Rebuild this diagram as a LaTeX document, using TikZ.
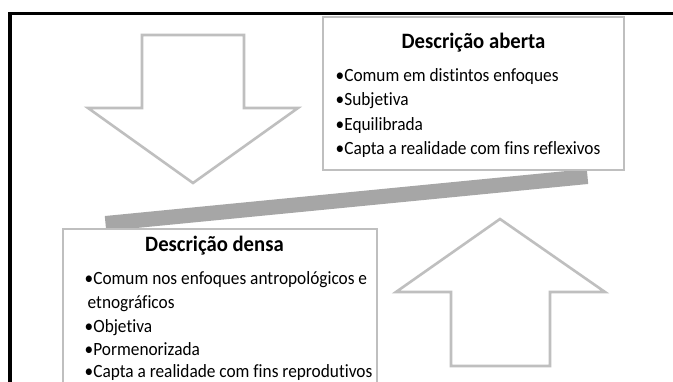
\documentclass[tikz,border=0pt]{standalone}
\usepackage{fontspec}
\setmainfont{Carlito}[Ligatures=NoCommon]
\definecolor{boxgray}{HTML}{BFBFBF}
\definecolor{bargray}{HTML}{A6A6A6}
\tikzset{
  textbox/.style={draw=boxgray, line width=2pt, fill=white, rectangle, inner sep=0pt},
  bigarrow/.style={draw=boxgray, line width=2.6pt, fill=white, line join=miter},
  barline/.style={draw=bargray, line width=15pt, line cap=butt},
  frameline/.style={draw=black, line width=3.6pt},
  title/.style={anchor=base, inner sep=0pt, yscale=1.06, font=\fontsize{20.7}{24}\selectfont\bfseries},
  item/.style={anchor=base west, inner sep=0pt, yscale=1.08, font=\fontsize{17.3}{21}\selectfont},
}
\begin{document}
\begin{tikzpicture}[x=1pt, y=-1pt]
\useasboundingbox (0,0) rectangle (673,382);
\fill[white] (0,0) rectangle (673,382);
% frame
\coordinate (fTR) at (673,13.4);
\coordinate (fTL) at (10.2,13.4);
\coordinate (fBL) at (10.2,382);
\draw[frameline] (fTR) -- (8.4,13.4);
\draw[frameline] (fTL) -- (fBL);
% down arrow
\draw[bigarrow] (142,35) -- (244,35) -- (244,108) -- (298,108) -- (193,183) -- (88,108) -- (142,108) -- cycle;
% up arrow
\draw[bigarrow] (451,366) -- (550,366) -- (550,292) -- (605,292) -- (500,219) -- (396,292) -- (451,292) -- cycle;
% balance bar
\coordinate (barL) at (105.5,223.5);
\coordinate (barR) at (587.5,176.5);
\draw[barline] (barL) -- (barR);
% boxes
\node[textbox, minimum width=301pt, minimum height=153pt] (aberta) at (473.5,93.5) {};
\node[textbox, minimum width=314pt, minimum height=170pt] (densa) at (220,314) {};
% texts of box aberta
\node[title] (tA) at (473.5,48.3) {Descrição aberta};
\node[item] (a1) at (335.5,81.7) {•Comum em distintos enfoques};
\node[item] (a2) at (335.5,106) {•Subjetiva};
\node[item] (a3) at (335.5,130.5) {•Equilibrada};
\node[item] (a4) at (335.5,155) {•Capta a realidade com fins reflexivos};
% texts of box densa
\node[title] (tD) at (214.5,251.7) {Descrição densa};
\node[item] (d1) at (84.5,285) {•Comum nos enfoques antropológicos e};
\node[item] (d1b) at (87.5,308.5) {etnográficos};
\node[item] (d2) at (84.5,332.5) {•Objetiva};
\node[item] (d3) at (84.5,356) {•Pormenorizada};
\node[item] (d4) at (84.5,377.5) {•Capta a realidade com fins reprodutivos};
\end{tikzpicture}
\end{document}
